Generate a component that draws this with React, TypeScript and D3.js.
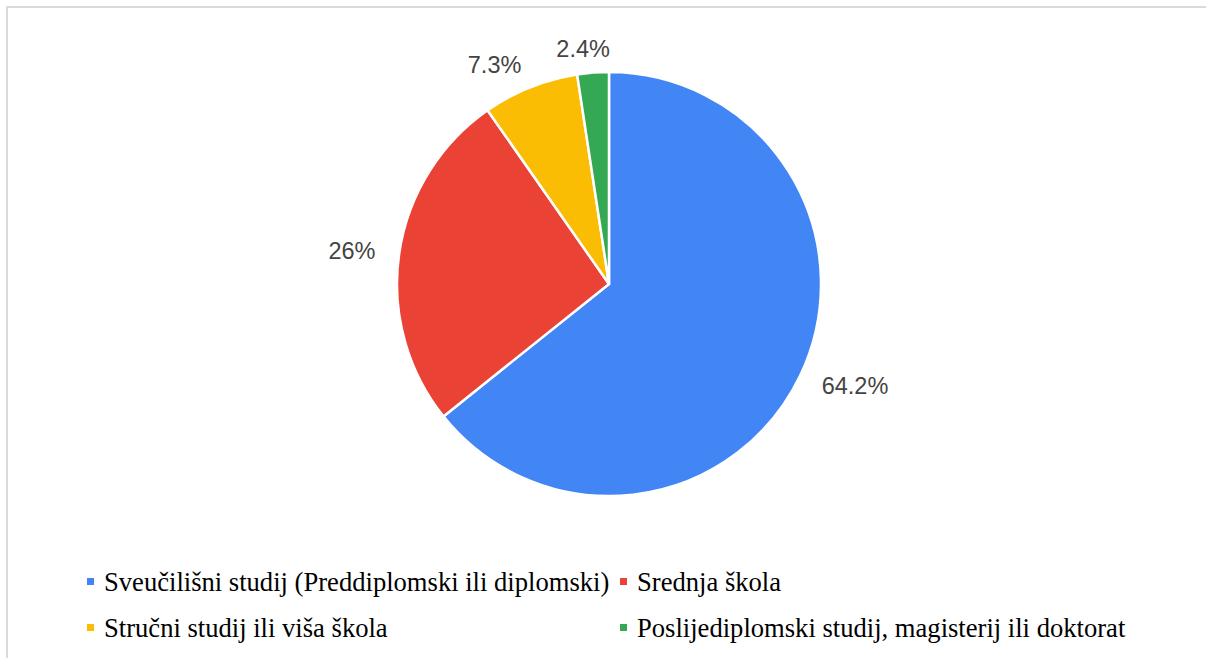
import React from "react";
import * as d3 from "d3";

const categories = [
  "Sveučilišni studij (Preddiplomski ili diplomski)",
  "Srednja škola",
  "Stručni studij ili viša škola",
  "Poslijediplomski studij, magisterij ili doktorat",
];
const values = [64.2, 26, 7.3, 2.4];
const colors = ["#4285F4", "#EA4335", "#FBBC04", "#34A853"];

const W = 1206;
const H = 658;
const CX = 609;
const CY = 284;
const R = 212;
const LABEL_R = 236;
const LABEL_FS = 23.5;

const charW: Record<string, number> = { ".": 0.278, "%": 0.889 };
function textWidth(s: string) {
  let w = 0;
  for (const ch of s) w += charW[ch] ?? 0.556;
  return w * LABEL_FS;
}

export default function App() {
  const pie = d3.pie<number>().sort(null).value((d) => d)(values);
  const arc = d3.arc<d3.PieArcDatum<number>>().innerRadius(0).outerRadius(R);

  const legendCols = [87, 620];
  const legendRows = [591, 637];

  return (
    <svg
      width={W}
      height={H}
      style={{ position: "absolute", left: 0, top: 0, background: "#fff" }}
    >
      <rect x={7} y={7} width={1300} height={800} fill="#fff" stroke="#dadada" strokeWidth={2} />
      <g transform={`translate(${CX},${CY})`}>
        {pie.map((p, i) => (
          <path key={i} d={arc(p) || ""} fill={colors[i]} stroke="#fff" strokeWidth={2.5} strokeLinejoin="round" />
        ))}
        {pie.map((p, i) => {
          const a = (p.startAngle + p.endAngle) / 2;
          const x = Math.sin(a) * LABEL_R;
          const y = -Math.cos(a) * LABEL_R;
          const label = `${values[i]}%`;
          const w = textWidth(label);
          const f = Math.max(0, Math.min(1, 0.5 + Math.sin(a) * 2));
          const left = x - (1 - f) * w;
          return (
            <text
              key={i}
              x={left}
              y={y}
              dy="0.35em"
              textAnchor="start"
              fontFamily="'Liberation Sans', Arial, sans-serif"
              fontSize={LABEL_FS}
              fill="#444444"
            >
              {label}
            </text>
          );
        })}
      </g>
      {categories.map((c, i) => {
        const col = i % 2;
        const row = Math.floor(i / 2);
        const x = legendCols[col];
        const y = legendRows[row];
        return (
          <g key={i}>
            <rect x={x} y={y - 13} width={7} height={7} fill={colors[i]} />
            <text
              x={x + 17}
              y={y}
              fontFamily="'Liberation Serif', 'Times New Roman', serif"
              fontSize={26.6}
              fill="#000"
            >
              {c}
            </text>
          </g>
        );
      })}
    </svg>
  );
}
